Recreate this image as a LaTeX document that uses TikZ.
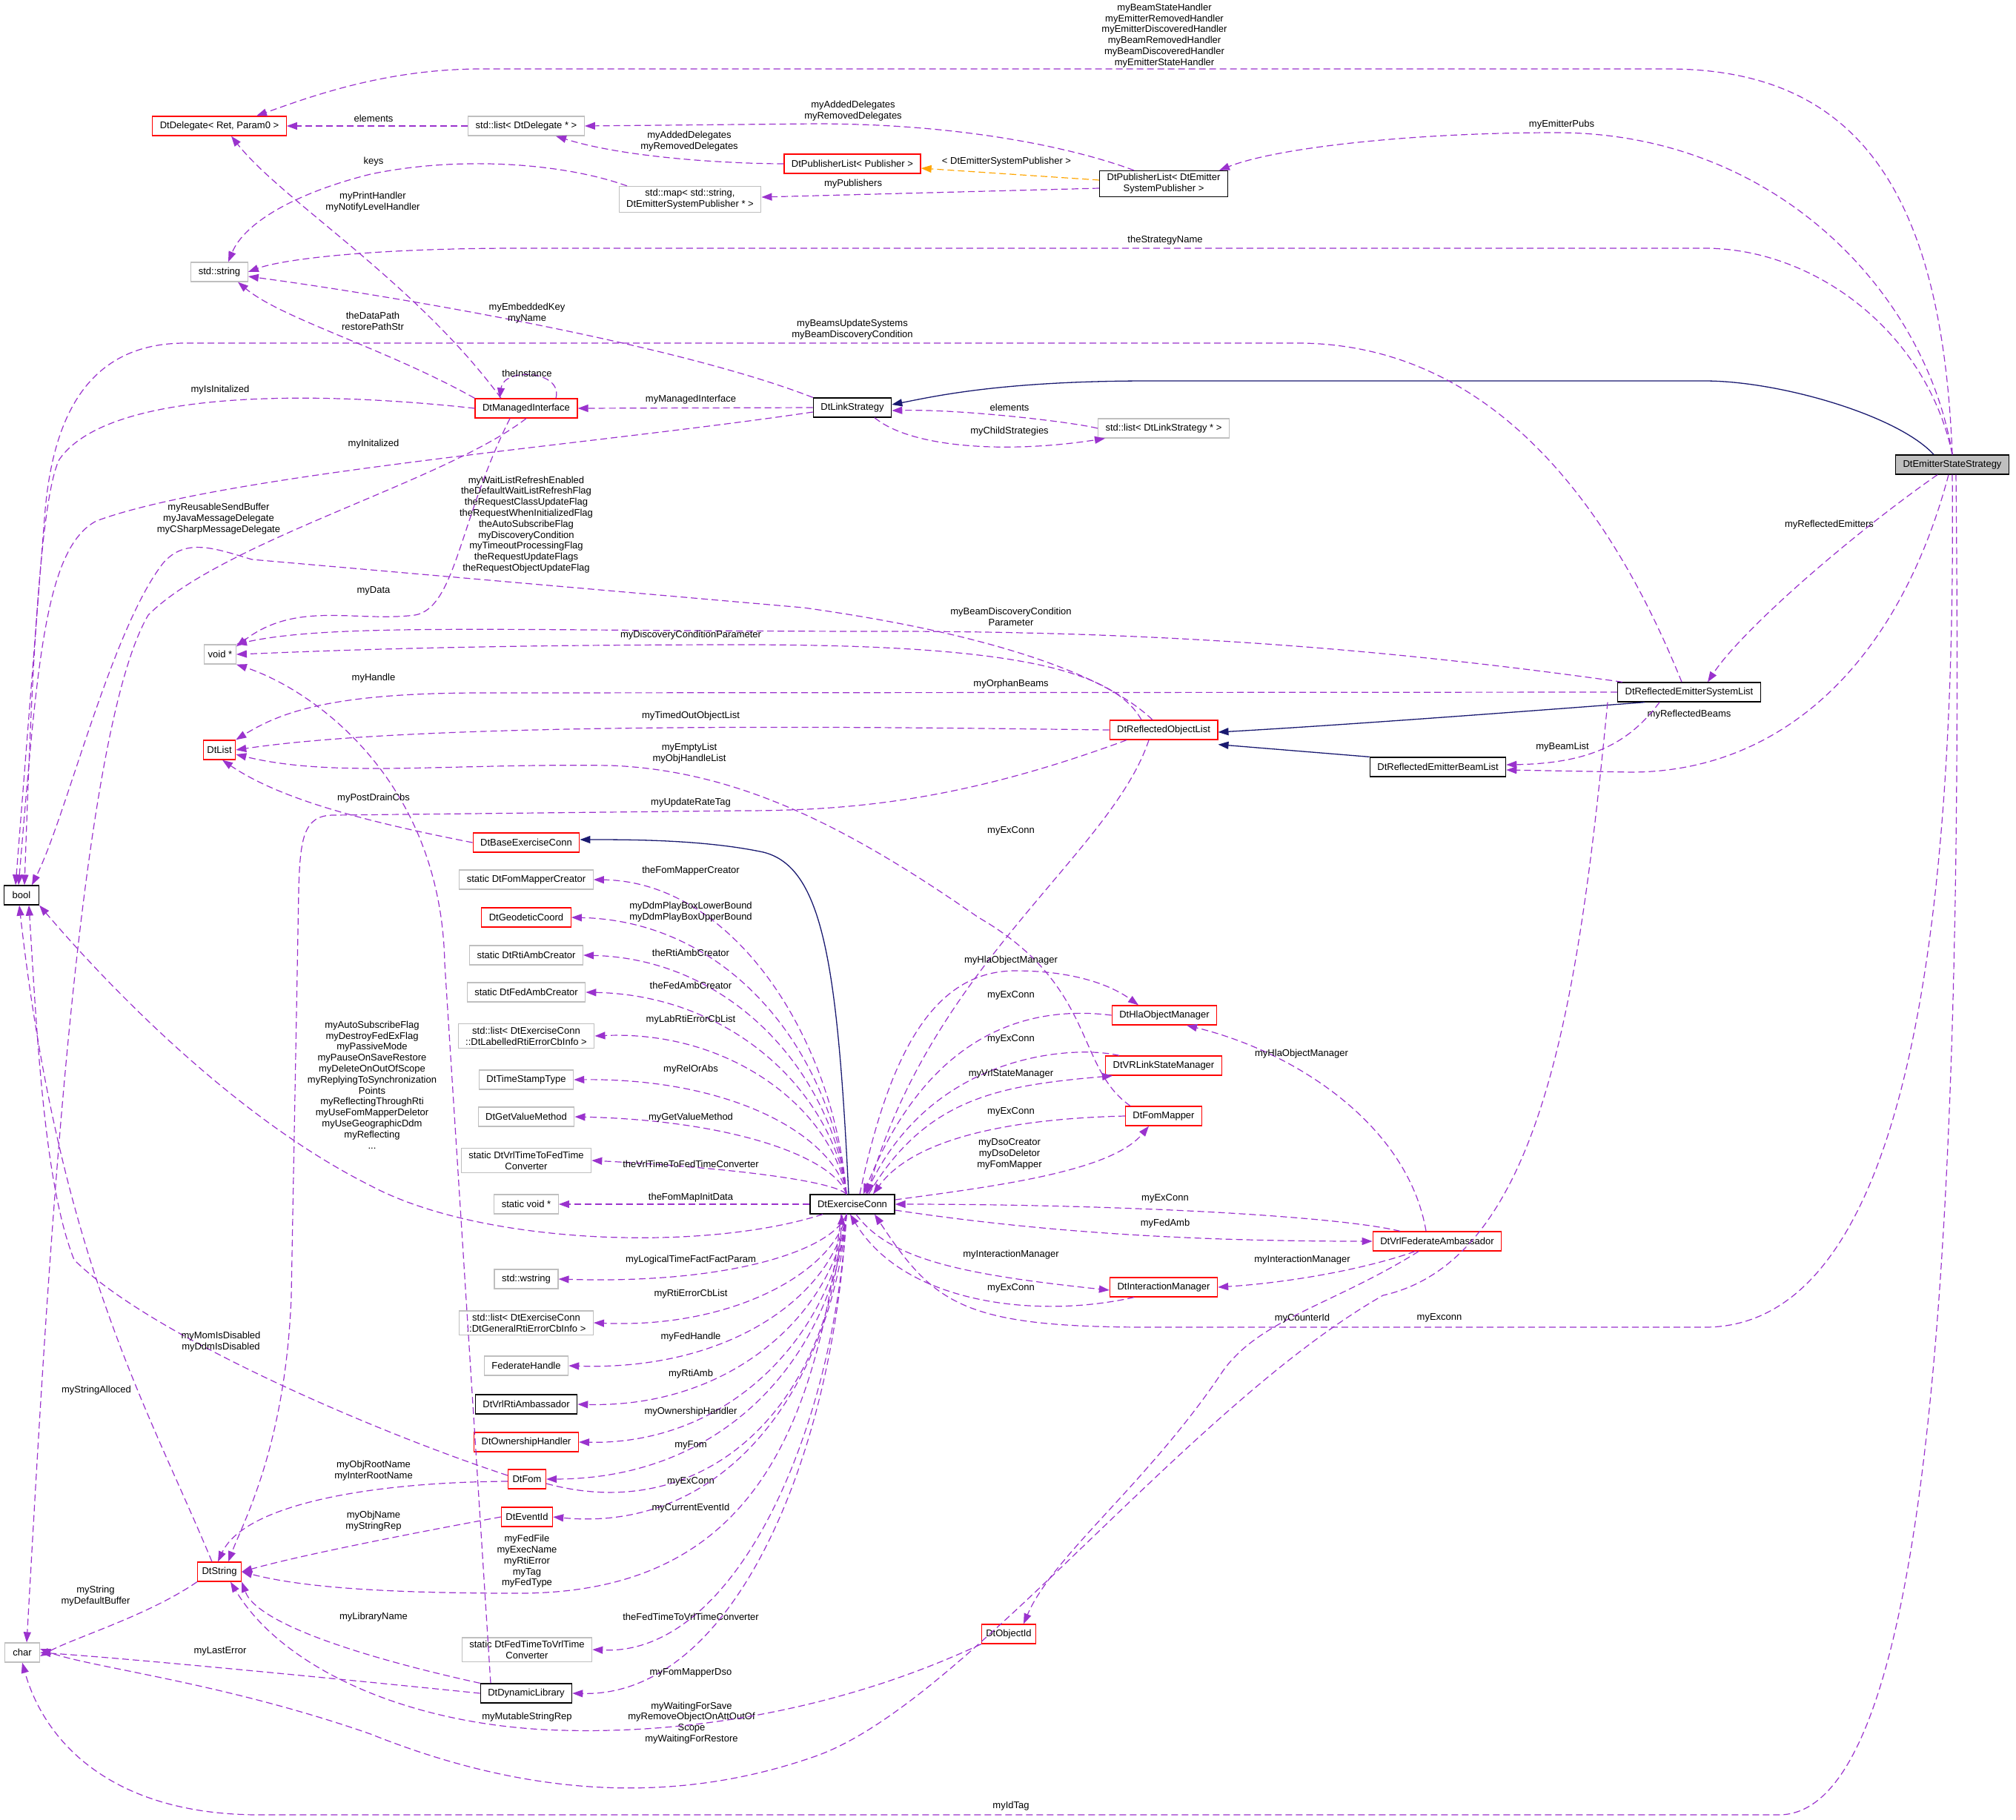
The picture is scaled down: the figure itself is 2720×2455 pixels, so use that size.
\documentclass[tikz,border=0pt]{standalone}
\usepackage{fontspec}
\setmainfont{Liberation Sans}
\usetikzlibrary{arrows.meta}
\definecolor{ec}{RGB}{154,50,205}
\definecolor{nv}{RGB}{25,25,112}
\definecolor{orr}{RGB}{255,165,0}
\definecolor{gb}{RGB}{191,191,191}
\begin{document}
\begin{tikzpicture}[x=1pt,y=-1pt,
 every node/.style={font=\fontsize{13}{14.8}\selectfont},
 box/.style={draw,line width=1.3pt,align=center,inner xsep=10pt,inner ysep=4pt,minimum height=26pt},
 rb/.style={box,draw=red},
 gx/.style={box,draw=gb},
 bk/.style={box,draw=black},
 e/.style={draw=ec,line width=1.2pt,dash pattern=on 9pt off 5pt,-{Triangle[length=14pt,width=10pt]}},
 n/.style={draw=nv,line width=1.3pt,-{Triangle[length=14pt,width=10pt]}},
 o/.style={draw=orr,line width=1.2pt,dash pattern=on 9pt off 5pt,-{Triangle[length=14pt,width=10pt]}},
 lab/.style={align=center,inner sep=0pt}]
\useasboundingbox (0,0) rectangle (2720,2455);
% nodes
\node[bk,fill=gb] (ess) at (2634,627) {DtEmitterStateStrategy};
\node[rb] (dd) at (296,170) {DtDelegate< Ret, Param0 >};
\node[gx] (ld) at (710,170) {std::list< DtDelegate * >};
\node[rb] (pp) at (1150,221) {DtPublisherList< Publisher >};
\node[bk] (pe) at (1570,248) {DtPublisherList< DtEmitter\\SystemPublisher >};
\node[gx] (sm) at (931,269) {std::map< std::string,\\ DtEmitterSystemPublisher * >};
\node[gx] (ss) at (296,367) {std::string};
\node[rb] (dmi) at (710,551) {DtManagedInterface};
\node[bk] (dls) at (1150,550) {DtLinkStrategy};
\node[gx] (lls) at (1570,578) {std::list< DtLinkStrategy * >};
\node[bk,minimum width=47pt,inner xsep=2pt] (bool) at (29,1208) {bool};
\node[gx,inner xsep=5pt] (vp) at (297,883) {void *};
\node[rb,inner xsep=5pt] (dl) at (296,1012) {DtList};
\node[bk] (ress) at (2279,934) {DtReflectedEmitterSystemList};
\node[rb] (rol) at (1570,985) {DtReflectedObjectList};
\node[bk] (rebl) at (1940,1035) {DtReflectedEmitterBeamList};
\node[rb] (bec) at (710,1137) {DtBaseExerciseConn};
\node[gx] (n1) at (710,1187) {static DtFomMapperCreator};
\node[rb] (n2) at (710,1238) {DtGeodeticCoord};
\node[gx] (n3) at (710,1289) {static DtRtiAmbCreator};
\node[gx] (n4) at (710,1339) {static DtFedAmbCreator};
\node[gx] (n5) at (710,1398) {std::list< DtExerciseConn\\::DtLabelledRtiErrorCbInfo >};
\node[gx] (n6) at (710,1457) {DtTimeStampType};
\node[gx] (n7) at (710,1507) {DtGetValueMethod};
\node[gx] (n8) at (710,1566) {static DtVrlTimeToFedTime\\Converter};
\node[gx] (n9) at (710,1625) {static void *};
\node[gx] (wstr) at (710,1726) {std::wstring};
\node[gx] (lgen) at (710,1785) {std::list< DtExerciseConn\\::DtGeneralRtiErrorCbInfo >};
\node[gx] (fh) at (710,1843) {FederateHandle};
\node[bk] (vra) at (710,1895) {DtVrlRtiAmbassador};
\node[rb] (own) at (710,1946) {DtOwnershipHandler};
\node[rb,inner xsep=6pt] (fom) at (711,1996) {DtFom};
\node[rb,inner xsep=6pt] (eid) at (711,2047) {DtEventId};
\node[rb,inner xsep=6pt] (dstr) at (296,2121) {DtString};
\node[gx] (f2v) at (711,2226) {static DtFedTimeToVrlTime\\Converter};
\node[bk] (dyn) at (710,2285) {DtDynamicLibrary};
\node[gx,minimum width=47pt,inner xsep=2pt] (char) at (30,2230) {char};
\node[bk] (ec) at (1150,1625) {DtExerciseConn};
\node[rb] (hla) at (1571,1370) {DtHlaObjectManager};
\node[rb] (vrl) at (1570,1438) {DtVRLinkStateManager};
\node[rb] (fm) at (1570,1506) {DtFomMapper};
\node[rb] (fa) at (1939,1675) {DtVrlFederateAmbassador};
\node[rb] (im) at (1570,1737) {DtInteractionManager};
\node[rb,inner xsep=6pt] (oid) at (1361,2205) {DtObjectId};

% top edges
\draw[e] (ess.north) .. controls (2620,250) and (2500,93) .. (2250,93) -- (650,93) .. controls (520,93) and (420,130) .. ([xshift=50pt]dd.north);
\node[lab] (l1) at (1571,48) {myBeamStateHandler\\myEmitterRemovedHandler\\myEmitterDiscoveredHandler\\myBeamRemovedHandler\\myBeamDiscoveredHandler\\myEmitterStateHandler};
\draw[e] (ess.north) .. controls (2600,400) and (2400,179) .. (2100,179) .. controls (1900,179) and (1720,200) .. ([xshift=75pt]pe.north);
\node[lab] (l2) at (2107,168) {myEmitterPubs};
\draw[e] (ess.north) .. controls (2600,450) and (2450,335) .. (2300,335) -- (700,335) .. controls (500,335) and (380,350) .. (ss.east);
\node[lab] (l3) at (1572,324) {theStrategyName};
\draw[n] ([xshift=-25pt]ess.north) .. controls (2560,560) and (2400,514) .. (2300,514) -- (1550,514) .. controls (1350,514) and (1260,535) .. ([yshift=4pt]dls.east);
\draw[e] ([xshift=-20pt]ess.south) .. controls (2500,720) and (2350,850) .. ([xshift=25pt]ress.north);
\node[lab] (l5) at (2468,708) {myReflectedEmitters};
\draw[e] ([xshift=-5pt]ess.south) .. controls (2560,900) and (2400,1042) .. (2200,1042) -- ([yshift=-4pt]rebl.east);
\node[lab] (l6) at (2279,964) {myReflectedBeams};
\draw[e] ([xshift=-40pt]ress.south) .. controls (2200,1000) and (2150,1030) .. ([yshift=3pt]rebl.east);
\node[lab] (l6b) at (2108,1008) {myBeamList};
\draw[e] (ess.south) .. controls (2640,1300) and (2560,1791) .. (2300,1791) -- (1550,1791) .. controls (1300,1791) and (1260,1760) .. ([xshift=30pt]ec.south);
\node[lab] (l7) at (1942,1778) {myExconn};
\draw[e] ([xshift=5pt]ess.south) .. controls (2650,1700) and (2600,2449) .. (2400,2449) -- (350,2449) .. controls (150,2449) and (60,2350) .. (char.south);
\node[lab] (l8) at (1364,2437) {myIdTag};
\draw[e] ([xshift=-40pt]pe.north) .. controls (1450,200) and (1300,167) .. (1100,167) -- (ld.east);
\node[lab] (l9) at (1151,150) {myAddedDelegates\\myRemovedDelegates};
\draw[o] ([yshift=5pt]pe.west) -- ([yshift=-6pt]pp.east);
\node[lab] (l10) at (1358,218) {< DtEmitterSystemPublisher >};
\draw[e] ([yshift=-6pt]pe.west) -- ([yshift=3pt]sm.east);
\node[lab] (l11) at (1151,248) {myPublishers};
\draw[e] (pp.west) .. controls (1000,221) and (850,215) .. ([xshift=40pt]ld.south);
\node[lab] (l12) at (930,191) {myAddedDelegates\\myRemovedDelegates};
\draw[e] (ld.west) -- (dd.east);
\node[lab] (l13) at (504,160) {elements};
\draw[e] ([xshift=-85pt]sm.north) .. controls (760,220) and (620,210) .. (500,235) .. controls (400,260) and (330,300) .. ([xshift=12pt]ss.north);
\node[lab] (l14) at (504,218) {keys};
\draw[e] ([xshift=-34pt]dmi.north) .. controls (560,380) and (380,270) .. ([xshift=16pt]dd.south);
\node[lab] (l15) at (503,273) {myPrintHandler\\myNotifyLevelHandler};
\draw[e] (dmi.north west) .. controls (520,470) and (380,430) .. ([xshift=25pt]ss.south);
\node[lab] (l16) at (503,433) {theDataPath\\restorePathStr};
\draw[e] (dls.north west) .. controls (900,460) and (500,395) .. ([yshift=-6pt]ss.east);
\node[lab] (l17) at (711,423) {myEmbeddedKey\\myName};
\draw[e] ([xshift=40pt]dmi.north) .. controls (760,500) and (680,495) .. ([xshift=-36pt]dmi.north);
\node[lab] (l18) at (711,504) {theInstance};
\draw[e] (dmi.west) .. controls (450,530) and (150,520) .. (80,620) .. controls (50,680) and (40,1000) .. ([xshift=4pt]bool.north);
\node[lab] (l19) at (297,526) {myIsInitalized};
\draw[e] (dls.west) -- (dmi.east);
\node[lab] (l20) at (932,539) {myManagedInterface};
\draw[e] ([yshift=-6pt]dls.west) .. controls (800,600) and (300,640) .. (130,703) .. controls (60,740) and (50,900) .. ([xshift=-4pt]bool.north);
\node[lab] (l21) at (504,599) {myInitalized};
\draw[e] ([xshift=30pt]dls.south) .. controls (1230,605) and (1360,612) .. ([xshift=10pt]lls.south west);
\node[lab] (l22) at (1362,582) {myChildStrategies};
\draw[e] (lls.west) .. controls (1450,570) and (1300,552) .. ([yshift=-4pt]dls.east);
\node[lab] (l23) at (1362,550) {elements};
% reflected lists
\draw[e] ([xshift=-10pt]ress.north) .. controls (2200,750) and (2050,463) .. (1750,463) -- (250,463) .. controls (120,463) and (70,560) .. (60,700) -- ([xshift=-8pt]bool.north);
\node[lab] (l24) at (1150,445) {myBeamsUpdateSystems\\myBeamDiscoveryCondition};
\draw[e] ([xshift=-90pt]ress.north) .. controls (1900,880) and (1600,852) .. (1200,852) .. controls (700,852) and (450,840) .. (vp.north east);
\node[lab] (l25) at (1364,832) {myBeamDiscoveryCondition\\Parameter};
\draw[e] (ress.west) -- (650,935) .. controls (450,935) and (380,960) .. (dl.north east);
\node[lab] (l26) at (1364,923) {myOrphanBeams};
\draw[n] ([xshift=-60pt]ress.south) .. controls (1900,972) and (1750,982) .. ([yshift=-3pt]rol.east);
\draw[n] (rebl.north west) -- ([yshift=-6pt]rol.south east);
\draw[e] (rol.west) .. controls (1300,983) and (600,970) .. (dl.east);
\node[lab] (l29) at (932,966) {myTimedOutObjectList};
\draw[e] ([xshift=-30pt]rol.north) .. controls (1500,900) and (1350,870) .. (1000,870) .. controls (600,870) and (400,880) .. (vp.east);
\node[lab] (l30) at (932,857) {myDiscoveryConditionParameter};
\draw[e] ([xshift=-15pt]rol.north) .. controls (1480,900) and (1300,850) .. (1084,820) -- (340,755) .. controls (290,740) and (250,725) .. (220,760) .. controls (150,850) and (90,1100) .. ([xshift=14pt]bool.north);
\node[lab] (l31) at (710,708) {myWaitListRefreshEnabled\\theDefaultWaitListRefreshFlag\\theRequestClassUpdateFlag\\theRequestWhenInitializedFlag\\theAutoSubscribeFlag\\myDiscoveryCondition\\myTimeoutProcessingFlag\\theRequestUpdateFlags\\theRequestObjectUpdateFlag};
\draw[e] (dmi.south) .. controls (600,650) and (300,730) .. (200,830) .. controls (100,1000) and (60,1800) .. ([xshift=6pt]char.north);
\node[lab] (l32) at (295,700) {myReusableSendBuffer\\myJavaMessageDelegate\\myCSharpMessageDelegate};
\draw[e] ([xshift=-22pt]dmi.south) .. controls (620,700) and (615,820) .. (560,830) .. controls (480,840) and (400,810) .. ([yshift=-3pt]vp.north east);
\node[lab] (l33) at (504,797) {myData};
\draw[e] ([xshift=-48pt]dyn.north) -- (600,1300) .. controls (595,1050) and (420,930) .. (vp.south east);
\node[lab] (l34) at (504,915) {myHandle};
\draw[e] ([xshift=-50pt]rol.south) .. controls (1300,1080) and (1150,1094) .. (1000,1094) -- (450,1100) .. controls (410,1100) and (405,1130) .. (403,1200) -- (393,1750) .. controls (385,1950) and (330,2050) .. ([xshift=12pt]dstr.north);
\node[lab] (l35) at (932,1083) {myUpdateRateTag};
\draw[e] ([xshift=-45pt]fm.north) .. controls (1450,1440) and (1480,1330) .. (1320,1238) .. controls (1150,1120) and (1000,1040) .. (824,1033) .. controls (600,1030) and (450,1050) .. ([yshift=-6pt]dl.east);
\node[lab] (l36) at (930,1017) {myEmptyList\\myObjHandleList};
\draw[e] ([xshift=-20pt]rol.south) .. controls (1500,1150) and (1260,1300) .. ([xshift=20pt]ec.north);
\node[lab] (l37) at (1364,1121) {myExConn};
\draw[e] (bec.west) .. controls (500,1110) and (380,1080) .. ([xshift=4pt]dl.south);
\node[lab] (l38) at (504,1077) {myPostDrainCbs};
\draw[n] ([xshift=-5pt]ec.north) .. controls (1130,1300) and (1110,1170) .. (1030,1150) .. controls (950,1133) and (850,1133) .. ([yshift=4pt]bec.east);
% ec to left column
\newcommand{\ecup}[2]{\draw[e] ([xshift=-8pt]ec.north) .. controls (1125,{#2+0.5*(1612-#2)}) and (990,#2) .. (#1.east);}
\newcommand{\ecdn}[2]{\draw[e] ([xshift=-8pt]ec.south) .. controls (1125,{1638+0.5*(#2-1638)}) and (990,#2) .. (#1.east);}
\ecup{n1}{1190}\node[lab] (m1) at (932,1175) {theFomMapperCreator};
\ecup{n2}{1243}\node[lab] (m2) at (932,1231) {myDdmPlayBoxLowerBound\\myDdmPlayBoxUpperBound};
\ecup{n3}{1294}\node[lab] (m3) at (932,1286) {theRtiAmbCreator};
\ecup{n4}{1343}\node[lab] (m4) at (932,1330) {theFedAmbCreator};
\ecup{n5}{1390}\node[lab] (m5) at (932,1376) {myLabRtiErrorCbList};
\ecup{n6}{1455}\node[lab] (m6) at (932,1443) {myRelOrAbs};
\ecup{n7}{1512}\node[lab] (m7) at (932,1508) {myGetValueMethod};
\ecup{n8}{1576}\node[lab] (m8) at (932,1571) {theVrlTimeToFedTimeConverter};
\draw[e] (ec.west) -- (n9.east);\node[lab] (m9) at (932,1616) {theFomMapInitData};
\ecdn{wstr}{1733}\node[lab] (m10) at (932,1700) {myLogicalTimeFactFactParam};
\ecdn{lgen}{1793}\node[lab] (m11) at (932,1746) {myRtiErrorCbList};
\ecdn{fh}{1850}\node[lab] (m12) at (932,1804) {myFedHandle};
\ecdn{vra}{1900}\node[lab] (m13) at (932,1854) {myRtiAmb};
\ecdn{own}{1950}\node[lab] (m14) at (932,1905) {myOwnershipHandler};
\ecdn{fom}{1995}\node[lab] (m15) at (932,1950) {myFom};
\draw[e] ([yshift=-6pt]fom.east) .. controls (950,2060) and (1120,1900) .. ([xshift=-14pt]ec.south);
\node[lab] (m16) at (932,1999) {myExConn};
\ecdn{eid}{2070}\node[lab] (m17) at (932,2035) {myCurrentEventId};
\ecdn{f2v}{2235}\node[lab] (m18) at (932,2182) {theFedTimeToVrlTimeConverter};
\ecdn{dyn}{2290}\node[lab] (m19) at (932,2257) {myFomMapperDso};
\draw[e] ([xshift=-15pt]ec.south) .. controls (1100,1950) and (1000,2150) .. (700,2150) .. controls (500,2150) and (400,2140) .. (dstr.east);
\node[lab] (m20) at (711,2107) {myFedFile\\myExecName\\myRtiError\\myTag\\myFedType};
\draw[e] ([xshift=-40pt]ec.south) .. controls (950,1690) and (650,1680) .. (500,1600) .. controls (300,1500) and (120,1300) .. (bool.south east);
\node[lab] (m21) at (502,1464) {myAutoSubscribeFlag\\myDestroyFedExFlag\\myPassiveMode\\myPauseOnSaveRestore\\myDeleteOnOutOfScope\\myReplyingToSynchronization\\Points\\myReflectingThroughRti\\myUseFomMapperDeletor\\myUseGeographicDdm\\myReflecting\\...};
% right side
\draw[e] ([xshift=10pt]ec.north) .. controls (1200,1420) and (1260,1310) .. (1370,1310) .. controls (1450,1310) and (1500,1330) .. ([xshift=-35pt]hla.north);
\node[lab] (r1) at (1364,1296) {myHlaObjectManager};
\draw[e] (hla.west) .. controls (1380,1355) and (1250,1400) .. ([xshift=15pt]ec.north);
\node[lab] (r2) at (1364,1343) {myExConn};
\draw[e] ([xshift=-60pt]vrl.north) .. controls (1450,1410) and (1260,1420) .. ([xshift=18pt]ec.north);
\node[lab] (r3) at (1364,1402) {myExConn};
\draw[e] ([xshift=22pt]ec.north) .. controls (1250,1480) and (1350,1465) .. ([xshift=10pt]vrl.south west);
\node[lab] (r4) at (1364,1449) {myVrlStateManager};
\draw[e] (fm.west) .. controls (1350,1510) and (1230,1540) .. ([xshift=28pt]ec.north);
\node[lab] (r5) at (1364,1500) {myExConn};
\draw[e] ([yshift=6pt]ec.east) .. controls (1350,1600) and (1500,1580) .. ([xshift=-20pt]fm.south);
\node[lab] (r6) at (1362,1557) {myDsoCreator\\myDsoDeletor\\myFomMapper};
\draw[e] ([xshift=-50pt]fa.north) .. controls (1800,1640) and (1500,1625) .. (ec.east);
\node[lab] (r7) at (1572,1617) {myExConn};
\draw[e] ([yshift=-8pt]ec.east) .. controls (1400,1662) and (1600,1675) .. (fa.west);
\node[lab] (r8) at (1572,1651) {myFedAmb};
\draw[e] ([xshift=-15pt]fa.north) .. controls (1900,1520) and (1750,1420) .. ([xshift=30pt]hla.south);
\node[lab] (r9) at (1756,1422) {myHlaObjectManager};
\draw[e] ([xshift=5pt]ec.south) .. controls (1200,1700) and (1300,1720) .. ([yshift=-4pt]im.west);
\node[lab] (r10) at (1364,1693) {myInteractionManager};
\draw[e] ([xshift=-40pt]im.south) .. controls (1400,1780) and (1220,1760) .. ([xshift=-3pt]ec.south);
\node[lab] (r11) at (1364,1738) {myExConn};
\draw[e] ([xshift=-30pt]fa.south) .. controls (1850,1710) and (1750,1730) .. (im.east);
\node[lab] (r12) at (1757,1700) {myInteractionManager};
\draw[e] ([xshift=-25pt]fa.south) .. controls (1800,1760) and (1700,1780) .. (1650,1850) .. controls (1550,2000) and (1420,2100) .. ([xshift=20pt]oid.north);
\node[lab] (r13) at (1757,1779) {myCounterId};
\draw[e] ([xshift=-110pt]ress.south) .. controls (2130,1350) and (2080,1700) .. (1866,1748) .. controls (1600,1900) and (1300,2300) .. (1100,2370) .. controls (900,2440) and (700,2420) .. (500,2340) .. controls (300,2270) and (120,2250) .. ([yshift=5pt]char.east);
\node[lab] (r14) at (933,2325) {myWaitingForSave\\myRemoveObjectOnAttOutOf\\Scope\\myWaitingForRestore};
\draw[e] (oid.south west) .. controls (1150,2300) and (950,2340) .. (760,2335) .. controls (550,2330) and (380,2250) .. ([xshift=15pt]dstr.south);
\node[lab] (r15) at (711,2317) {myMutableStringRep};
% bottom left
\draw[e] ([yshift=5pt]fom.west) .. controls (500,1930) and (200,1800) .. (100,1700) .. controls (60,1600) and (50,1400) .. ([xshift=10pt]bool.south);
\node[lab] (b1) at (298,1811) {myMomIsDisabled\\myDdmIsDisabled};
\draw[e] ([xshift=-10pt]dstr.north) .. controls (200,1900) and (80,1700) .. ([xshift=-3pt]bool.south);
\node[lab] (b2) at (130,1876) {myStringAlloced};
\draw[e] (dstr.south west) .. controls (200,2180) and (100,2210) .. ([yshift=-5pt]char.east);
\node[lab] (b3) at (129,2154) {myString\\myDefaultBuffer};
\draw[e] ([yshift=-3pt]fom.west) .. controls (500,2000) and (330,2030) .. ([xshift=-2pt]dstr.north);
\node[lab] (b4) at (504,1985) {myObjRootName\\myInterRootName};
\draw[e] (eid.west) .. controls (550,2070) and (400,2100) .. (dstr.east);
\node[lab] (b5) at (504,2053) {myObjName\\myStringRep};
\draw[e] (dyn.north west) .. controls (550,2250) and (350,2200) .. (dstr.south east);
\node[lab] (b6) at (504,2182) {myLibraryName};
\draw[e] (dyn.west) .. controls (500,2270) and (200,2240) .. (char.east);
\node[lab] (b7) at (297,2228) {myLastError};
\end{tikzpicture}
\end{document}
